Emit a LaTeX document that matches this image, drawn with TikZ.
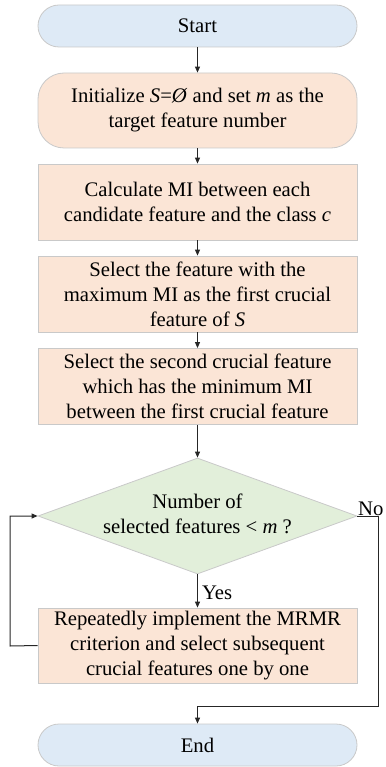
\documentclass[tikz,border=0pt]{standalone}
\usepackage{fontspec}
\setmainfont{Liberation Serif}
\usetikzlibrary{shapes.geometric,arrows.meta}
\definecolor{blfill}{HTML}{DEEAF6}
\definecolor{pcfill}{HTML}{FBE5D6}
\definecolor{grfill}{HTML}{E2EFDA}
\definecolor{bord}{HTML}{C9C9C9}
\definecolor{lin}{HTML}{262626}
\begin{document}
\begin{tikzpicture}[x=1pt,y=-1pt,
  base/.style={draw=bord, line width=0.8pt, align=center,
    font=\fontsize{20.7}{25}\selectfont, inner sep=0pt, minimum width=319pt},
  term/.style={base, fill=blfill, rounded corners=21pt, minimum height=42pt},
  roundbox/.style={base, fill=pcfill, rounded corners=26pt, minimum height=75pt},
  procbox/.style={base, fill=pcfill, minimum height=76pt},
  decbox/.style={diamond, aspect=2.75, draw=bord, line width=0.8pt, fill=grfill, inner sep=0pt,
    minimum width=319pt, minimum height=116pt},
  conn/.style={draw=lin, line width=1pt, -{Triangle[length=6pt,width=5pt]}},
  lbl/.style={font=\fontsize{20.7}{25}\selectfont, inner sep=0pt}
]
\useasboundingbox (0,0) rectangle (385,767);
\node[term] (start) at (197.5,26) {Start};
\node[roundbox] (init) at (197.5,110.5) {Initialize \textit{S}=\textit{Ø} and set \textit{m} as the\\target feature number};
\node[procbox] (calc) at (197.5,202) {Calculate MI between each\\candidate feature and the class \textit{c}};
\node[procbox] (first) at (197.5,294) {Select the feature with the\\maximum MI as the first crucial\\feature of \textit{S}};
\node[procbox] (second) at (197.5,386.5) {Select the second crucial feature\\which has the minimum MI\\between the first crucial feature};
\node[decbox] (dec) at (197.5,516) {};
\node[lbl, align=center] (dectext) at (197.5,514) {Number of\\selected features < \textit{m} ?};
\node[procbox, minimum height=75pt] (rep) at (197.5,645.5) {Repeatedly implement the MRMR\\criterion and select subsequent\\crucial features one by one};
\node[term] (end) at (197.5,745) {End};
\coordinate (lpA) at (10,646);
\coordinate (lpB) at (10,516);
\coordinate (nA) at (378,516);
\coordinate (nB) at (378,706);
\coordinate (nC) at (197.5,706);
\draw[conn] (start) -- (init);
\draw[conn] (init) -- (calc);
\draw[conn] (calc) -- (first);
\draw[conn] (first) -- (second);
\draw[conn] (second) -- (dec.north);
\draw[conn] (dec.south) -- node[lbl, right=4pt, pos=0.55] (yes) {Yes} (rep);
\draw[conn] (rep.west) -- (lpA) -- (lpB) -- (dec.west);
\draw[conn] (dec.east) -- (nA) -- (nB) -- (nC) -- (end);
\node[lbl, anchor=base west] (no) at (358,515) {No};
\end{tikzpicture}
\end{document}
